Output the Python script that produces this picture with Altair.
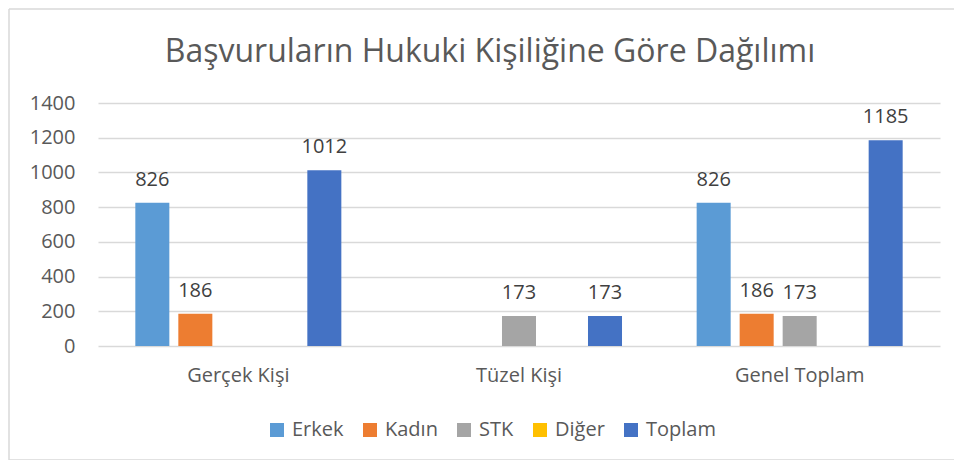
import altair as alt
import pandas as pd

categories = ["Gerçek Kişi", "Tüzel Kişi", "Genel Toplam"]
series = ["Erkek", "Kadın", "STK", "Diğer", "Toplam"]
colors = ["#5B9BD5", "#ED7D31", "#A5A5A5", "#FFC000", "#4472C4"]
erkek = [826, None, 826]
kadin = [186, None, 186]
stk = [None, 173, 173]
diger = [None, None, None]
toplam = [1012, 173, 1185]
y_ticks = [0, 200, 400, 600, 800, 1000, 1200, 1400]
title_text = "Başvuruların Hukuki Kişiliğine Göre Dağılımı"

rows = []
for s, vals in zip(series, [erkek, kadin, stk, diger, toplam]):
    for c, v in zip(categories, vals):
        rows.append({"kategori": c, "seri": s, "deger": v})
df = pd.DataFrame(rows)

FONT = "Open Sans"
GREY = "#595959"

x_enc = alt.X("kategori:N", sort=categories,
              scale=alt.Scale(paddingInner=0, paddingOuter=0),
              axis=alt.Axis(title=None, labelAngle=0, domain=False, ticks=False,
                            labelPadding=19, labelFontSize=20, labelColor=GREY,
                            labelFont=FONT, grid=False))
xo_enc = alt.XOffset("seri:N", sort=series,
                     scale=alt.Scale(paddingInner=0.209, paddingOuter=0.868))
y_enc = alt.Y("deger:Q",
              scale=alt.Scale(domain=[0, 1400], nice=False),
              axis=alt.Axis(title=None, values=y_ticks, format="d", labelOverlap=False,
                            domain=False, ticks=False,
                            labelPadding=23, labelFontSize=20, labelColor=GREY,
                            labelFont=FONT, grid=True, gridColor="#D9D9D9",
                            gridWidth=1.5))

bars = alt.Chart(df).mark_bar().encode(
    x=x_enc,
    xOffset=xo_enc,
    y=y_enc,
    color=alt.Color("seri:N", sort=series,
                    scale=alt.Scale(domain=series, range=colors),
                    legend=alt.Legend(title=None, orient="none", direction="horizontal",
                                      legendX=169, legendY=317,
                                      symbolType="square", symbolSize=196,
                                      symbolStrokeWidth=0, labelFontSize=20,
                                      labelColor=GREY, labelFont=FONT,
                                      labelOffset=5, columnPadding=16)),
)

labels = alt.Chart(df).transform_filter("datum.deger != null").mark_text(
    dy=-17, baseline="alphabetic", fontSize=20, font=FONT, color="#404040"
).encode(
    x=x_enc,
    xOffset=xo_enc,
    y=y_enc,
    text=alt.Text("deger:Q"),
)

title_data = alt.Data(values=[{"t": title_text}])
title_mark = alt.Chart(title_data).mark_text(
    fontSize=32, font=FONT, color=GREY, align="center", baseline="alphabetic"
).encode(x=alt.value(392), y=alt.value(-41), text="t:N")

border_data = alt.Data(values=[{"k": 1}])
left_line = alt.Chart(border_data).mark_rule(color="#D9D9D9", strokeWidth=1.5).encode(
    x=alt.value(-89), y=alt.value(-94), y2=alt.value(358))
top_line = alt.Chart(border_data).mark_rule(color="#D9D9D9", strokeWidth=1.5).encode(
    x=alt.value(-89), x2=alt.value(860), y=alt.value(-94))
bottom_line = alt.Chart(border_data).mark_rule(color="#D9D9D9", strokeWidth=1.5).encode(
    x=alt.value(-89), x2=alt.value(860), y=alt.value(357))

chart = alt.layer(left_line, top_line, bottom_line, title_mark, bars, labels).properties(
    width=842, height=243,
    padding={"left": 90, "top": 95, "right": 14, "bottom": 114},
    autosize=alt.AutoSizeParams(type="none"),
).configure(
    background="white",
    view=alt.ViewConfig(stroke=None),
    axisY=alt.AxisConfig(labelOverlap=False),
)

chart.save("out.html", embed_options={"renderer": "svg", "actions": False})
